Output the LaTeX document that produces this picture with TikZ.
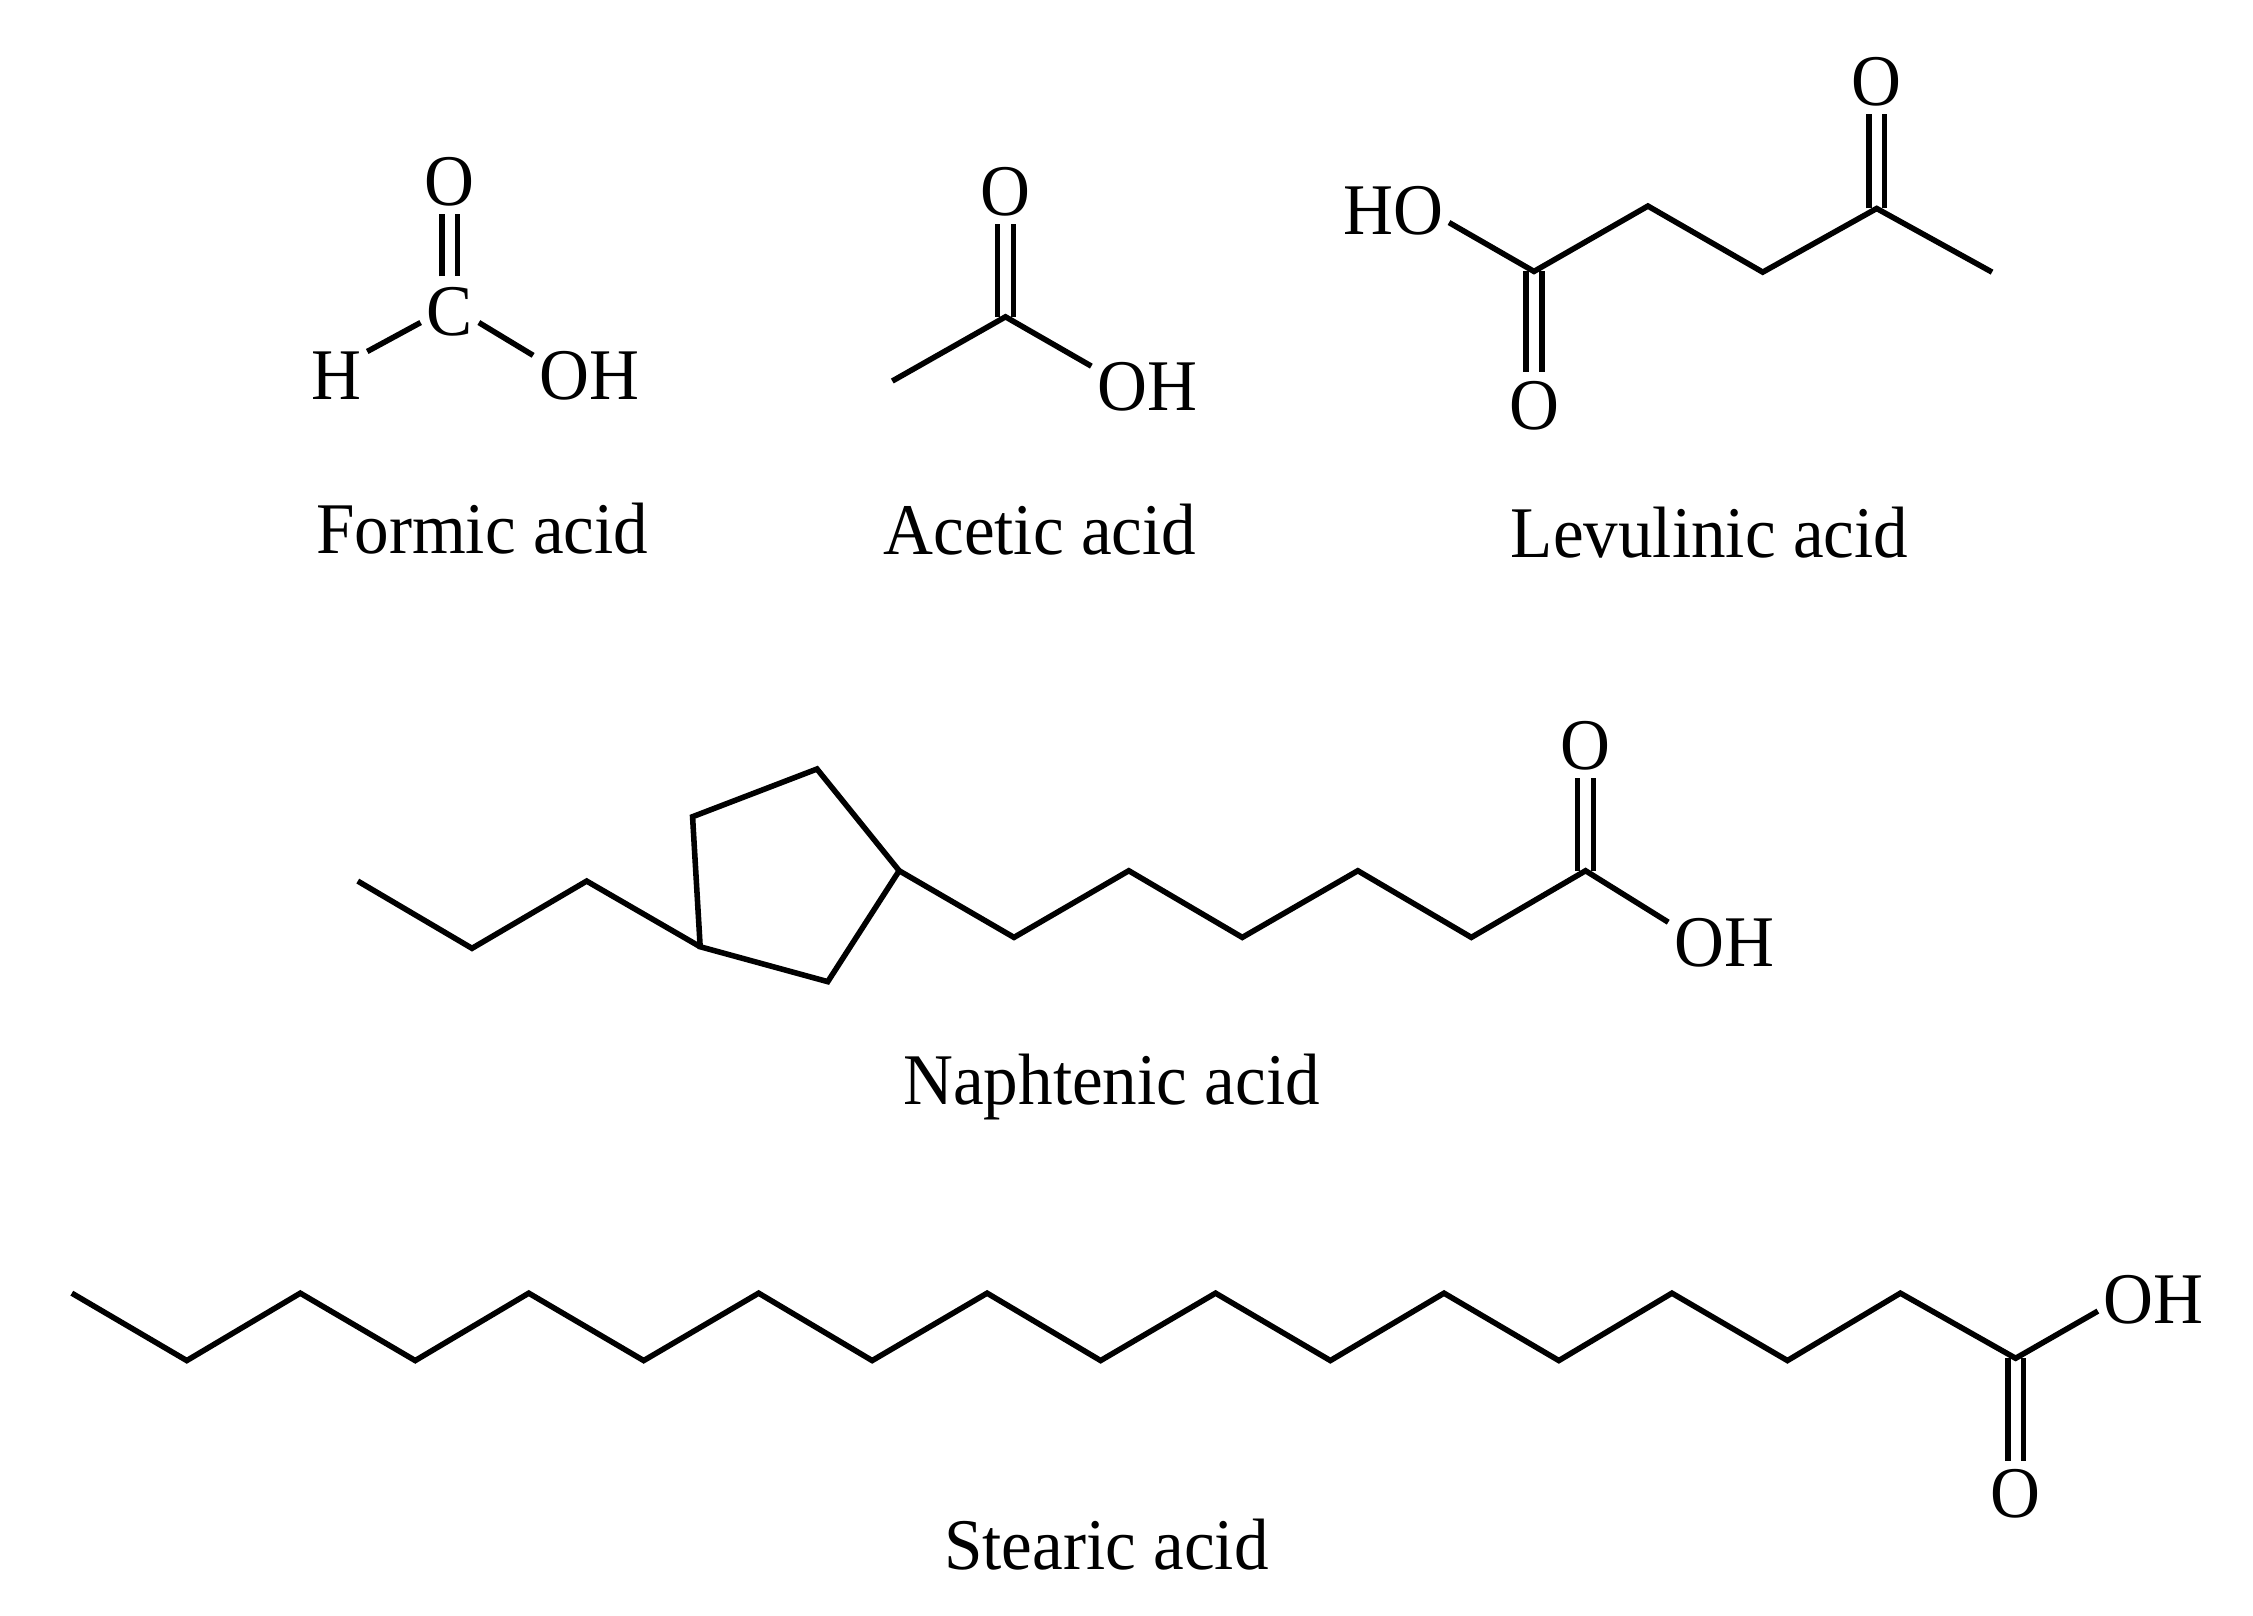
\documentclass[tikz,border=0pt]{standalone}
\usepackage{fontspec}
\setmainfont[FakeStretch=0.95]{Liberation Serif}
\begin{document}
\begin{tikzpicture}[
		x=0.01cm, y=-0.01cm,
		every node/.style={font=\fontsize{14.4}{18}\selectfont},
		atom/.style={inner xsep=1pt, inner ysep=1.5pt, text height=9.5pt, text depth=0pt},
		vertex/.style={coordinate},
		caption/.style={anchor=base, inner sep=0pt},
		bond/.style={line width=1.1pt, line join=miter},
		dblbond/.style={line width=1.1pt, double, double distance=2.03pt}
	]
  \useasboundingbox (0, 0) rectangle (1568, 1124);

  \node (fO) [atom] at (313, 126) {O};
  \node (fC) [atom, inner ysep=2pt] at (313, 216.7) {C};
  \node (fH) [atom] at (234, 261.5) {H};
  \node (fOH) [atom] at (410, 261.5) {OH};
  \node (fname) [caption] at (335.6, 385) {Formic acid};
  \draw [dblbond] (fC.north) -- (fO.south);
  \draw [bond] (fH.38) -- (fC.201);
  \draw [bond] (fC.-21) -- (fOH.160);

  \node (aO) [atom] at (699.8, 133.5) {O};
  \node (aC) [vertex] at (699.8, 220.5) {};
  \node (aMe) [vertex] at (621, 265.2) {};
  \node (aOH) [atom] at (798.5, 269) {OH};
  \node (aname) [caption] at (723.7, 385.8) {Acetic acid};
  \draw [dblbond] (aC) -- (aO.south);
  \draw [bond] (aMe) -- (aC) -- (aOH.160);

  \node (lHO) [atom] at (969.5, 146.6) {HO};
  \node (lO1) [atom] at (1067.6, 281.9) {O};
  \node (lO2) [atom] at (1306.1, 56.4) {O};
  \node (l1) [vertex] at (1067.6, 188.9) {};
  \node (l2) [vertex] at (1146.9, 143.4) {};
  \node (l3) [vertex] at (1226.8, 189.4) {};
  \node (l4) [vertex] at (1306.1, 145.1) {};
  \node (l5) [vertex] at (1386.4, 189.4) {};
  \node (lname) [caption] at (1189.7, 388.3) {Levulinic acid};
  \draw [dblbond] (l1) -- (lO1.north);
  \draw [dblbond] (l4) -- (lO2.south);
  \draw [bond] (lHO.-12) -- (l1) -- (l2) -- (l3) -- (l4) -- (l5);

  \node (n0) [vertex] at (249, 613.2) {};
  \node (n1) [vertex] at (328.5, 660) {};
  \node (n2) [vertex] at (408.3, 613.2) {};
  \node (ra) [vertex] at (487.3, 658.9) {};
  \node (rb) [vertex] at (482, 568.4) {};
  \node (rc) [vertex] at (568.6, 535.2) {};
  \node (rd) [vertex] at (625.8, 606) {};
  \node (re) [vertex] at (576.1, 683.2) {};
  \node (n3) [vertex] at (705.7, 652.4) {};
  \node (n4) [vertex] at (785.6, 606) {};
  \node (n5) [vertex] at (864.6, 652.4) {};
  \node (n6) [vertex] at (945, 606) {};
  \node (n7) [vertex] at (1024, 652.4) {};
  \node (n8) [vertex] at (1103.5, 606) {};
  \node (nO) [atom] at (1103.5, 519) {O};
  \node (nOH) [atom] at (1200, 656) {OH};
  \node (nname) [caption] at (773.6, 768.6) {Naphtenic acid};
  \draw [dblbond] (n8) -- (nO.south);
  \draw [bond] (n0) -- (n1) -- (n2) -- (ra);
  \draw [bond] (ra) -- (rb) -- (rc) -- (rd) -- (re) -- cycle;
  \draw [bond] (rd) -- (n3) -- (n4) -- (n5) -- (n6) -- (n7) -- (n8) -- (nOH.160);

  \node (s0) [vertex] at (50, 900) {};
  \node (s1) [vertex] at (130, 946.9) {};
  \node (s2) [vertex] at (209, 900) {};
  \node (s3) [vertex] at (289, 946.9) {};
  \node (s4) [vertex] at (368, 900) {};
  \node (s5) [vertex] at (448, 946.9) {};
  \node (s6) [vertex] at (528, 900) {};
  \node (s7) [vertex] at (607, 946.9) {};
  \node (s8) [vertex] at (687, 900) {};
  \node (s9) [vertex] at (766, 946.9) {};
  \node (s10) [vertex] at (846, 900) {};
  \node (s11) [vertex] at (925.9, 946.9) {};
  \node (s12) [vertex] at (1005, 900) {};
  \node (s13) [vertex] at (1084.9, 946.9) {};
  \node (s14) [vertex] at (1163.6, 900) {};
  \node (s15) [vertex] at (1244, 946.9) {};
  \node (s16) [vertex] at (1322.6, 900) {};
  \node (s17) [vertex] at (1402.8, 945.3) {};
  \node (sO) [atom] at (1402.8, 1039.3) {O};
  \node (sOH) [atom] at (1499, 904.2) {OH};
  \node (sname) [caption] at (770, 1092) {Stearic acid};
  \draw [dblbond] (s17) -- (sO.north);
  \draw [bond] (s0) -- (s1) -- (s2) -- (s3) -- (s4) -- (s5) -- (s6) -- (s7) -- (s8)
    -- (s9) -- (s10) -- (s11) -- (s12) -- (s13) -- (s14) -- (s15) -- (s16) -- (s17)
    -- (sOH.192);
\end{tikzpicture}
\end{document}
